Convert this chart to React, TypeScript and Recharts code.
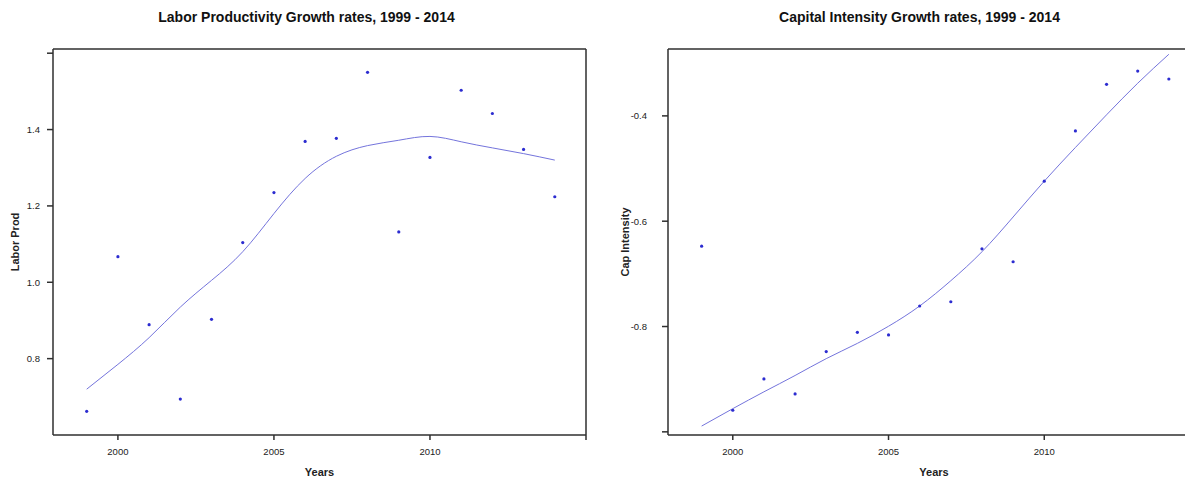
import React from 'react';
import { ComposedChart, Line, Scatter, XAxis, YAxis } from 'recharts';

// values
const years = [1999, 2000, 2001, 2002, 2003, 2004, 2005, 2006, 2007, 2008, 2009, 2010, 2011, 2012, 2013, 2014];

const laborProd = [0.662, 1.067, 0.889, 0.694, 0.903, 1.104, 1.235, 1.369, 1.377, 1.55, 1.132, 1.327, 1.503, 1.442, 1.348, 1.224];
const laborFit = [0.72, 0.785, 0.855, 0.935, 1.005, 1.08, 1.18, 1.272, 1.33, 1.358, 1.372, 1.382, 1.368, 1.352, 1.337, 1.32];

const capIntensity = [-0.6475, -0.959, -0.8995, -0.928, -0.8475, -0.811, -0.816, -0.761, -0.753, -0.6525, -0.677, -0.524, -0.4285, -0.34, -0.315, -0.33];
const capFit = [-0.989, -0.956, -0.924, -0.893, -0.861, -0.832, -0.7995, -0.761, -0.713, -0.658, -0.592, -0.524, -0.46, -0.398, -0.338, -0.283];

const yearTicks = [2000, 2005, 2010, 2015];
const laborTicks = [0.8, 1.0, 1.2, 1.4, 1.6];
const capTicks = [-1.0, -0.8, -0.6, -0.4];

const FONT = '"Liberation Sans", Arial, sans-serif';
const AXIS = '#2f2f2f';
const POINT = '#2c2cd0';
const CURVE = '#7474dc';

type Row = { year: number; value: number; fit: number };

const buildRows = (values: number[], fit: number[]): Row[] =>
    years.map((year, i) => ({ year, value: values[i], fit: fit[i] }));

const Dot = (props: any) => <circle cx={props.cx} cy={props.cy} r={1.6} fill={POINT} />;

type PanelProps = {
    rows: Row[];
    yDomain: [number, number];
    yTicks: number[];
    hiddenTick: number;
    yLabel: string;
    yLabelOffset: number;
    yTickMargin: number;
    yAxisWidth: number;
};

const Panel = ({ rows, yDomain, yTicks, hiddenTick, yLabel, yLabelOffset, yTickMargin, yAxisWidth }: PanelProps) => (
    <ComposedChart width={613} height={478} data={rows} margin={{ top: 20, right: 0, bottom: 0, left: 0 }} style={{ fontFamily: FONT }}>
        <XAxis
            dataKey="year"
            type="number"
            domain={[1997.92, 2015]}
            ticks={yearTicks}
            height={43}
            stroke={AXIS}
            strokeWidth={1.5}
            tickSize={5}
            tickMargin={8}
            tick={{ fontSize: 9.5, fill: '#222' }}
            tickFormatter={(v: number) => (v === 2015 ? '' : String(v))}
            allowDataOverflow
            label={{ value: 'Years', position: 'insideBottom', offset: 2, style: { fontSize: 11, fontWeight: 'bold', fill: '#222' } }}
        />
        <XAxis
            xAxisId="top"
            orientation="top"
            type="number"
            domain={[1997.92, 2015]}
            ticks={yearTicks}
            height={29}
            stroke={AXIS}
            strokeWidth={1.5}
            tickSize={5}
            tick={false}
            allowDataOverflow
        />
        <YAxis
            type="number"
            domain={yDomain}
            ticks={yTicks}
            width={yAxisWidth}
            stroke={AXIS}
            strokeWidth={1.5}
            tickSize={6}
            tickMargin={yTickMargin}
            tick={{ fontSize: 9.5, fill: '#222' }}
            tickFormatter={(v: number) => (Math.abs(v - hiddenTick) < 1e-9 ? '' : v.toFixed(1))}
            allowDataOverflow
            label={{ value: yLabel, angle: -90, position: 'insideLeft', offset: yLabelOffset, style: { fontSize: 11, fontWeight: 'bold', fill: '#222', textAnchor: 'middle' } }}
        />
        <YAxis
            yAxisId="right"
            orientation="right"
            type="number"
            domain={yDomain}
            ticks={yTicks}
            width={27}
            stroke={AXIS}
            strokeWidth={1.5}
            tickSize={6}
            tick={false}
            allowDataOverflow
        />
        <Line type="natural" dataKey="fit" stroke={CURVE} strokeWidth={1} dot={false} activeDot={false} isAnimationActive={false} />
        <Scatter dataKey="value" fill={POINT} shape={Dot} isAnimationActive={false} />
    </ComposedChart>
);

const titleStyle: React.CSSProperties = {
    position: 'absolute',
    top: 9,
    width: 613,
    textAlign: 'center',
    fontFamily: FONT,
    fontWeight: 'bold',
    fontSize: 14,
    color: '#111',
};

export default function App() {
    return (
        <div style={{ position: 'relative', width: 1193, height: 478, margin: '-8px 0 0 -8px', overflow: 'hidden', background: '#fff' }}>
            <div style={{ ...titleStyle, left: 0 }}>Labor Productivity Growth rates, 1999 - 2014</div>
            <div style={{ ...titleStyle, left: 613 }}>Capital Intensity Growth rates, 1999 - 2014</div>
            <div style={{ position: 'absolute', left: 0, top: 0 }}>
                <Panel
                    rows={buildRows(laborProd, laborFit)}
                    yDomain={[0.6, 1.611]}
                    yTicks={laborTicks}
                    hiddenTick={1.6}
                    yLabel="Labor Prod"
                    yLabelOffset={15}
                    yTickMargin={7}
                    yAxisWidth={53}
                />
            </div>
            <div style={{ position: 'absolute', left: 614, top: 0 }}>
                <Panel
                    rows={buildRows(capIntensity, capFit)}
                    yDomain={[-1.006, -0.273]}
                    yTicks={capTicks}
                    hiddenTick={-1.0}
                    yLabel="Cap Intensity"
                    yLabelOffset={11}
                    yTickMargin={15}
                    yAxisWidth={54}
                />
            </div>
        </div>
    );
}
